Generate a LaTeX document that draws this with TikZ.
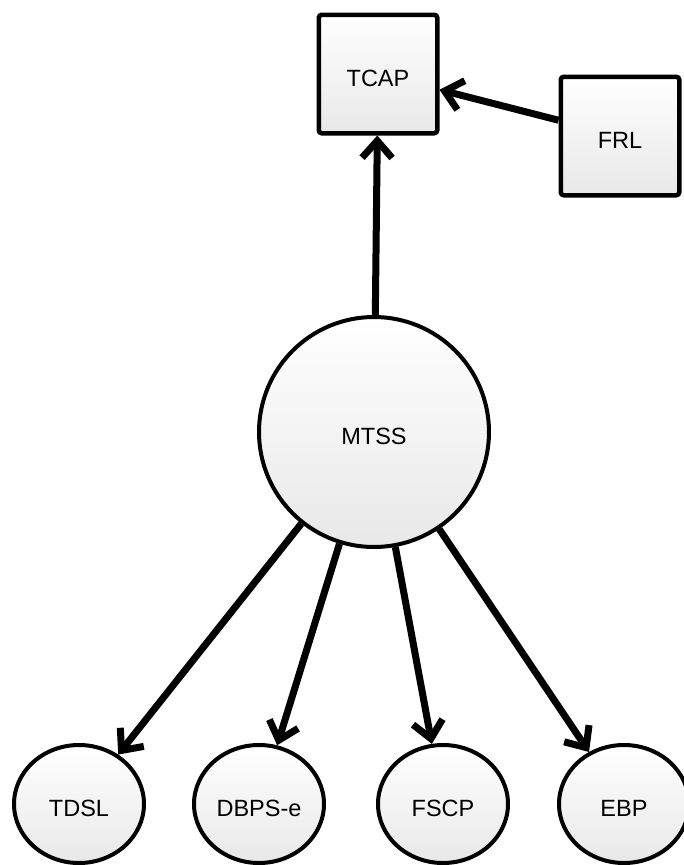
\documentclass[tikz,border=0pt]{standalone}
\usepackage{fontspec}
\setmainfont{Liberation Sans}
\usetikzlibrary{arrows.meta,shapes.geometric}
\begin{document}
\begin{tikzpicture}[x=1pt,y=-1pt,
  fillgrad/.style={shading=axis, shading angle=45,
    top color=white, bottom color=black!9},
  lbl/.style={font=\fontsize{23.5}{28}\selectfont, text height=25pt, text depth=0pt},
  boxnode/.style={fillgrad, lbl, draw, line width=4.5pt, rounded corners=3pt,
    minimum size=118.5pt, inner sep=0pt},
  bignode/.style={fillgrad, lbl, draw, circle, line width=4pt,
    minimum size=230pt, inner sep=0pt},
  leafnode/.style={fillgrad, lbl, draw, ellipse, line width=4pt,
    minimum width=130pt, minimum height=118pt, inner sep=0pt},
  link/.style={line width=7pt,
    -{Straight Barb[length=17pt,width=30pt]}}]
  \useasboundingbox (0,0) rectangle (684,865);

  \node[boxnode] (tcap) at (378,74) {TCAP};
  \node[boxnode] (frl) at (620,136) {FRL};
  \node[bignode] (mtss) at (374,432) {MTSS};
  \node[leafnode] (tdsl) at (79,804) {TDSL};
  \node[leafnode] (dbps) at (259,804) {DBPS-e};
  \node[leafnode] (fscp) at (443,804) {FSCP};
  \node[leafnode] (ebp) at (624,804) {EBP};

  \draw[link] (mtss) -- (tcap);
  \draw[link] (frl) -- (tcap);
  \draw[link] (mtss) -- (tdsl);
  \draw[link] (mtss) -- (dbps);
  \draw[link] (mtss) -- (fscp);
  \draw[link] (mtss) -- (ebp);
\end{tikzpicture}
\end{document}
